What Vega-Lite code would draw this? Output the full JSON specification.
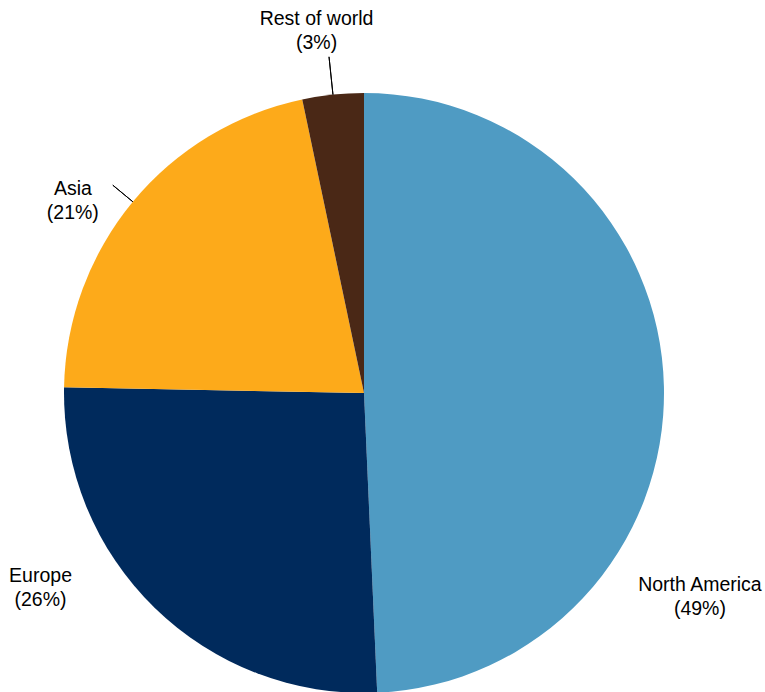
{
  "$schema": "https://vega.github.io/schema/vega-lite/v6.json",
  "width": 600,
  "height": 600,
  "autosize": {"type": "none"},
  "padding": {"left": 64, "top": 93, "right": 101, "bottom": 0},
  "background": "white",
  "config": {"view": {"stroke": null}},
  "data": {
    "values": [
      {"region": "North America", "share": 49.3, "label": "North America\n(49%)"},
      {"region": "Europe", "share": 26.0, "label": "Europe\n(26%)"},
      {"region": "Asia", "share": 21.4, "label": "Asia\n(21%)"},
      {"region": "Rest of world", "share": 3.3, "label": "Rest of world\n(3%)"}
    ]
  },
  "transform": [
    {"window": [{"op": "row_number", "as": "rank"}]},
    {"window": [{"op": "sum", "field": "share", "as": "cum"}], "sort": [{"field": "rank"}], "frame": [null, 0]},
    {"calculate": "datum.cum - datum.share / 2", "as": "mid"}
  ],
  "layer": [
    {
      "mark": {"type": "arc"},
      "encoding": {
        "theta": {"field": "share", "type": "quantitative", "stack": true, "scale": {"domain": [0, 100]}},
        "order": {"field": "rank", "type": "quantitative"},
        "color": {
          "field": "region",
          "type": "nominal",
          "scale": {
            "domain": ["North America", "Europe", "Asia", "Rest of world"],
            "range": ["#4F9BC3", "#002A5C", "#FDAA1A", "#4A2816"]
          },
          "legend": null
        }
      }
    },
    {
      "transform": [{"filter": {"field": "region", "oneOf": ["Rest of world"]}}],
      "mark": {"type": "arc", "filled": false, "stroke": "#000000", "strokeWidth": 1, "radius": 300, "radius2": 338},
      "encoding": {
        "theta": {"field": "mid", "type": "quantitative", "stack": null, "scale": {"domain": [0, 100]}},
        "theta2": {"field": "mid"}
      }
    },
    {
      "transform": [{"filter": {"field": "region", "oneOf": ["Asia"]}}],
      "mark": {"type": "arc", "filled": false, "stroke": "#000000", "strokeWidth": 1, "radius": 300, "radius2": 326},
      "encoding": {
        "theta": {"field": "mid", "type": "quantitative", "stack": null, "scale": {"domain": [0, 100]}},
        "theta2": {"field": "mid"}
      }
    },
    {
      "transform": [{"filter": {"field": "region", "oneOf": ["Rest of world"]}}],
      "mark": {"type": "text", "font": "Liberation Sans", "fontSize": 19.5, "lineHeight": 24, "lineBreak": "\n", "baseline": "middle", "align": "center", "color": "#000000", "radius": 362, "dx": -10, "dy": -14},
      "encoding": {
        "theta": {"field": "mid", "type": "quantitative", "stack": null, "scale": {"domain": [0, 100]}},
        "text": {"field": "label", "type": "nominal"}
      }
    },
    {
      "transform": [{"filter": {"field": "region", "oneOf": ["Asia"]}}],
      "mark": {"type": "text", "font": "Liberation Sans", "fontSize": 19.5, "lineHeight": 24, "lineBreak": "\n", "baseline": "middle", "align": "center", "color": "#000000", "radius": 300, "dx": -60, "dy": -13},
      "encoding": {
        "theta": {"field": "mid", "type": "quantitative", "stack": null, "scale": {"domain": [0, 100]}},
        "text": {"field": "label", "type": "nominal"}
      }
    },
    {
      "transform": [{"filter": {"field": "region", "oneOf": ["Europe"]}}],
      "mark": {"type": "text", "font": "Liberation Sans", "fontSize": 19.5, "lineHeight": 24, "lineBreak": "\n", "baseline": "middle", "align": "center", "color": "#000000", "radius": 300, "dx": -114, "dy": -32},
      "encoding": {
        "theta": {"field": "mid", "type": "quantitative", "stack": null, "scale": {"domain": [0, 100]}},
        "text": {"field": "label", "type": "nominal"}
      }
    },
    {
      "transform": [{"filter": {"field": "region", "oneOf": ["North America"]}}],
      "mark": {"type": "text", "font": "Liberation Sans", "fontSize": 19.5, "lineHeight": 24, "lineBreak": "\n", "baseline": "middle", "align": "center", "color": "#000000", "radius": 300, "dx": 36, "dy": 199},
      "encoding": {
        "theta": {"field": "mid", "type": "quantitative", "stack": null, "scale": {"domain": [0, 100]}},
        "text": {"field": "label", "type": "nominal"}
      }
    }
  ]
}
